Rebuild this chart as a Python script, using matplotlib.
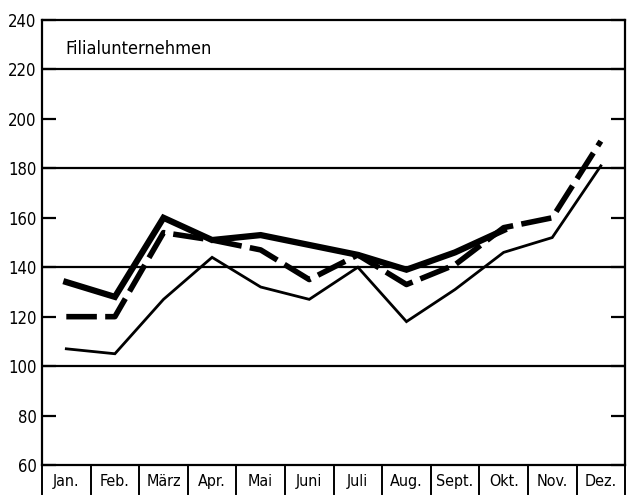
import matplotlib.pyplot as plt
import matplotlib.transforms as mtransforms

##########
# Data
##########

months = ['Jan.', 'Feb.', 'März', 'Apr.', 'Mai', 'Juni', 'Juli', 'Aug.',
          'Sept.', 'Okt.', 'Nov.', 'Dez.']
thin_line = [107, 105, 127, 144, 132, 127, 140, 118, 131, 146, 152, 181]
thick_line = [134, 128, 160, 151, 153, 149, 145, 139, 146, 155]
dashed_line = [120, 120, 154, 151, 147, 135, 145, 133, 141, 156, 160, 191]
y_labels = [60, 80, 100, 120, 140, 160, 180, 200, 220, 240]
grid_values = [100, 140, 180, 220]

##########
# Font
##########

plt.rcParams['font.family'] = ['DejaVu Sans']
plt.rcParams['font.stretch'] = 'condensed'

##########
# Plot
##########

fig = plt.figure(figsize=(6.27, 4.95), dpi=100)
ax = fig.add_axes([0.067, 0.0606, 0.93, 0.899])

x = list(range(len(months)))
ax.plot(x, thin_line, color='black', lw=2.0, solid_joinstyle='miter')
ax.plot(x[:len(thick_line)], thick_line, color='black', lw=4.5,
        solid_joinstyle='miter')
ax.plot(x, dashed_line, color='black', lw=4.0, dashes=(5.5, 1.5),
        dash_capstyle='butt')

for g in grid_values:
    ax.axhline(g, color='black', lw=1.6, zorder=0)

ax.set_xlim(-0.5, 11.5)
ax.set_ylim(60, 240)
ax.set_xticks([])
ax.set_yticks(y_labels)
ax.set_yticklabels([str(v) for v in y_labels], fontsize=12)
ax.tick_params(axis='y', direction='in', length=10, width=1.6,
               right=True, pad=4)
for s in ax.spines.values():
    s.set_linewidth(1.6)

ax.text(0.04, 0.935, 'Filialunternehmen', transform=ax.transAxes,
        fontsize=13, va='center', ha='left')

# month cells under the axis
trans = mtransforms.blended_transform_factory(ax.transData, ax.transAxes)
for i in range(len(months) + 1):
    ax.plot([i - 0.5, i - 0.5], [0, -0.065], transform=trans, color='black',
            lw=1.4, clip_on=False)
for i, m in enumerate(months):
    ax.text(i, -0.037, m, transform=trans, ha='center', va='center',
            fontsize=11.5)

fig.savefig('out.png', dpi=100)
